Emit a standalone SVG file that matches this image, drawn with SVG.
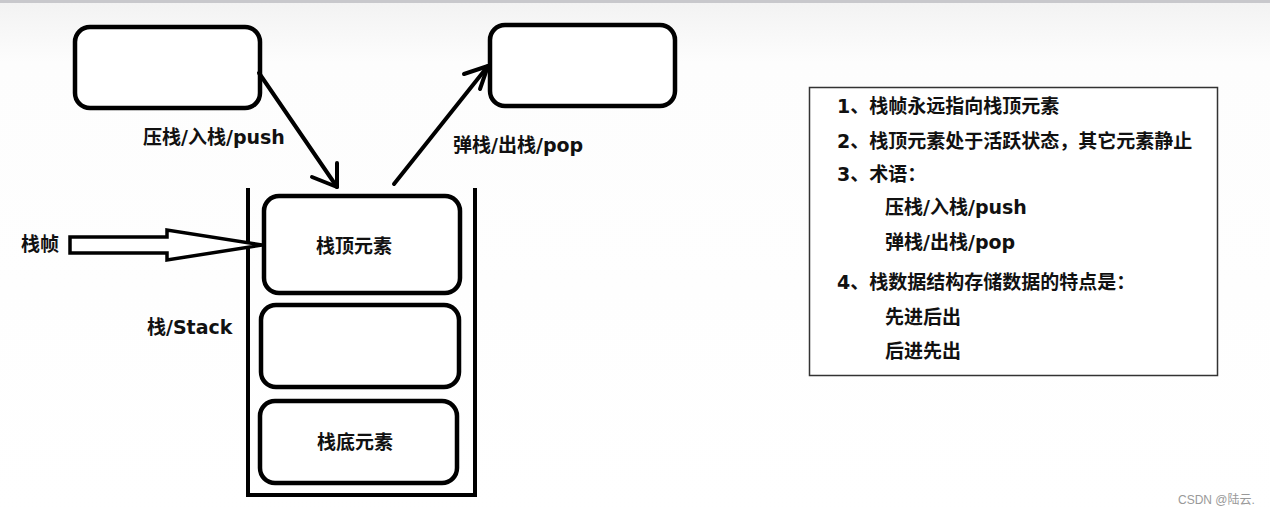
<svg xmlns="http://www.w3.org/2000/svg" width="1270" height="516" viewBox="0 0 1270 516">
<defs>
<linearGradient id="bg" x1="0" y1="0" x2="0" y2="1">
<stop offset="0" stop-color="#f2f2f2"/><stop offset="0.12" stop-color="#fdfdfd"/><stop offset="1" stop-color="#ffffff"/>
</linearGradient>
</defs>
<style>
.box{fill:#fff;stroke:#000;stroke-width:4.5}
.ln{fill:none;stroke:#000;stroke-width:4;stroke-linecap:round;stroke-linejoin:round}
.t{font-family:"DejaVu Sans","Noto Sans CJK SC",sans-serif;font-weight:bold;font-size:19px;fill:#111}
.c{text-anchor:middle}
.wm{font-family:"Liberation Sans","Noto Sans CJK SC",sans-serif;font-size:12px;fill:#999}
</style>
<rect width="1270" height="516" fill="url(#bg)"/>
<rect width="1270" height="3" fill="#c8c8cc"/>

<g id="src-box"><rect class="box" x="75" y="27" width="185" height="81" rx="15"/></g>
<g id="dst-box"><rect class="box" x="490" y="25" width="185" height="81" rx="15"/></g>

<g id="stack">
<path d="M248 188 V495 H475 V188" fill="none" stroke="#000" stroke-width="4"/>
<text class="t" x="147" y="334">栈/Stack</text>
</g>
<g id="top-elem">
<rect class="box" x="264" y="196" width="196" height="97" rx="15"/>
<text class="t c" x="354" y="253">栈顶元素</text>
</g>
<g id="mid-elem"><rect class="box" x="261" y="305" width="198" height="82" rx="15"/></g>
<g id="bottom-elem">
<rect class="box" x="260" y="401" width="197" height="82" rx="15"/>
<text class="t c" x="355" y="449">栈底元素</text>
</g>

<g id="frame">
<text class="t" x="21" y="251">栈帧</text>
</g>

<g id="connectors">
<path class="ln" d="M259 73 L337 187"/>
<path class="ln" d="M312 177 L337 187 L337 163"/>
<text class="t" x="143" y="144">压栈/入栈/push</text>
<path class="ln" d="M394 184 L488 66"/>
<path class="ln" d="M464 74 L488 66 L480 89"/>
<text class="t" x="453" y="152">弹栈/出栈/pop</text>
<path d="M70 237 H167 V230 L262 245 L167 260 V253 H70 Z" fill="#fff" stroke="#000" stroke-width="3.5" stroke-linejoin="miter"/>
</g>

<g id="notes">
<rect x="809.5" y="87.5" width="408" height="288" fill="#fff" stroke="#333" stroke-width="1.5"/>
<text class="t" x="837" y="113">1、栈帧永远指向栈顶元素</text>
<text class="t" x="837" y="148">2、栈顶元素处于活跃状态，其它元素静止</text>
<text class="t" x="837" y="181">3、术语：</text>
<text class="t" x="885" y="214">压栈/入栈/push</text>
<text class="t" x="885" y="249">弹栈/出栈/pop</text>
<text class="t" x="837" y="289">4、栈数据结构存储数据的特点是：</text>
<text class="t" x="885" y="324">先进后出</text>
<text class="t" x="885" y="358">后进先出</text>
</g>

<text class="wm" x="1178" y="504">CSDN @陆云.</text>
</svg>
